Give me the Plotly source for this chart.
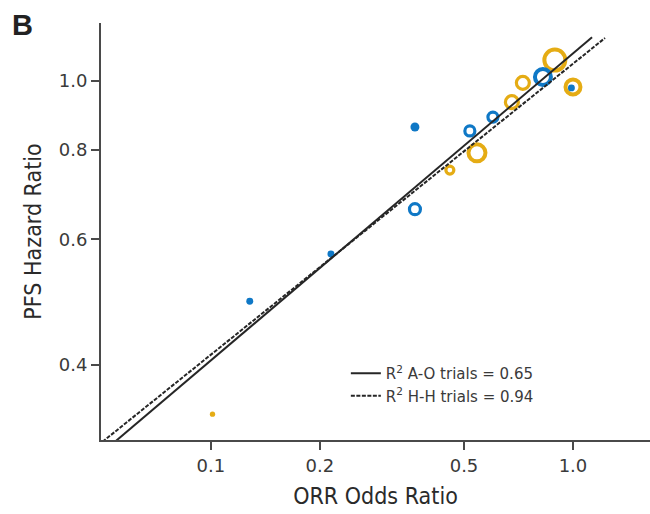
import numpy as np
import plotly.graph_objects as go

# ---------------- data ----------------
# Yellow group (rings = hollow, dots = filled)
yellow_orr = [0.891, 0.727, 1.00, 0.678, 0.543, 0.457, 0.101]
yellow_pfs = [1.070, 0.994, 0.981, 0.934, 0.793, 0.750, 0.341]
yellow_n = [110, 42, 56, 42, 72, 16, 7]
yellow_filled = [False, False, False, False, False, False, True]

# Blue group
blue_orr = [0.826, 0.601, 0.519, 0.366, 0.366, 0.2145, 0.128, 0.99]
blue_pfs = [1.013, 0.890, 0.851, 0.661, 0.862, 0.572, 0.491, 0.978]
blue_n = [64, 25, 25, 30, 20, 12, 12, 12]
blue_filled = [False, False, False, False, True, True, True, True]

# Regression fits in log-log space: log10(PFS) = a + b*log10(ORR)
fit_labels = ["R<sup>2</sup> A-O trials = 0.65", "R<sup>2</sup> H-H trials = 0.94"]
fit_a = [0.0388, 0.0242]
fit_b = [0.4306, 0.408]
fit_xmax = [1.129, 1.226]
fit_xmin = 0.045

x_ticks = [0.1, 0.2, 0.5, 1.0]
x_ticklabels = ["0.1", "0.2", "0.5", "1.0"]
y_ticks = [0.4, 0.6, 0.8, 1.0]
y_ticklabels = ["0.4", "0.6", "0.8", "1.0"]

# ---------------- styles ----------------
BLUE = "#0f78c6"
YELLOW = "#e5ac14"
LINE = "#262626"
TEXT = "#3a3a3a"
SANS = "DejaVu Sans, Arial, sans-serif"
NARROW = "DejaVu Sans Condensed, Liberation Sans Narrow, Roboto, Arial, sans-serif"

fig = go.Figure()

def add_group(xs, ys, ns, filled, color):
    xs = np.array(xs); ys = np.array(ys); ns = np.array(ns, float); filled = np.array(filled)
    size = 2 * np.sqrt(ns)
    ring = ~filled
    if ring.any():
        lw = np.where(size[ring] >= 14, 4.0, 3.2)
        fig.add_trace(go.Scatter(
            x=xs[ring], y=ys[ring], mode="markers", showlegend=False, hoverinfo="skip",
            marker=dict(symbol="circle-open", size=size[ring], color=color, opacity=1,
                        line=dict(width=lw, color=color))))
    if filled.any():
        fig.add_trace(go.Scatter(
            x=xs[filled], y=ys[filled], mode="markers", showlegend=False, hoverinfo="skip",
            marker=dict(symbol="circle", size=size[filled], color=color, opacity=1,
                        line=dict(width=0))))

add_group(yellow_orr, yellow_pfs, yellow_n, yellow_filled, YELLOW)
add_group(blue_orr, blue_pfs, blue_n, blue_filled, BLUE)

dashes = ["solid", "4px,1.5px"]
for lab, a, b, xm, d in zip(fit_labels, fit_a, fit_b, fit_xmax, dashes):
    xx = np.array([fit_xmin, xm])
    yy = 10 ** (a + b * np.log10(xx))
    fig.add_trace(go.Scatter(x=xx, y=yy, mode="lines", name=lab, hoverinfo="skip",
                             line=dict(color=LINE, width=2, dash=d)))

tick_font = dict(family=SANS, size=18, color=TEXT)
title_font = dict(family=NARROW, size=23, color="#2a2a2a")

fig.update_layout(
    width=650, height=514, paper_bgcolor="white", plot_bgcolor="white",
    margin=dict(l=101, r=0, t=23, b=74),
    legend=dict(x=0.446, y=0.199, xanchor="left", yanchor="top", bgcolor="rgba(0,0,0,0)",
                font=dict(family=SANS, size=15, color=TEXT),
                tracegroupgap=0),
    annotations=[dict(text="<b>B</b>", xref="paper", yref="paper", x=-0.166, y=1.038,
                      xanchor="left", yanchor="top", showarrow=False,
                      font=dict(family="Arial, Liberation Sans, sans-serif", size=29, color="#222"))],
)

fig.update_xaxes(
    type="log", range=[np.log10(0.0497), np.log10(1.632)],
    tickmode="array", tickvals=x_ticks, ticktext=x_ticklabels, tickfont=tick_font,
    showgrid=False, zeroline=False, showline=True, linecolor="#4a4a4a", linewidth=2,
    ticks="outside", ticklen=8, tickwidth=1.5, tickcolor="#4a4a4a",
    title=dict(text="ORR Odds Ratio", standoff=13, font=title_font),
)
fig.update_yaxes(
    type="log", range=[np.log10(0.3137), np.log10(1.206)],
    tickmode="array", tickvals=y_ticks, ticktext=y_ticklabels, tickfont=tick_font,
    showgrid=False, zeroline=False, showline=True, linecolor="#4a4a4a", linewidth=2,
    ticks="outside", ticklen=8, tickwidth=1.5, tickcolor="#4a4a4a",
    title=dict(text="PFS Hazard Ratio", standoff=11, font=title_font),
)

fig.write_html("out.html")
